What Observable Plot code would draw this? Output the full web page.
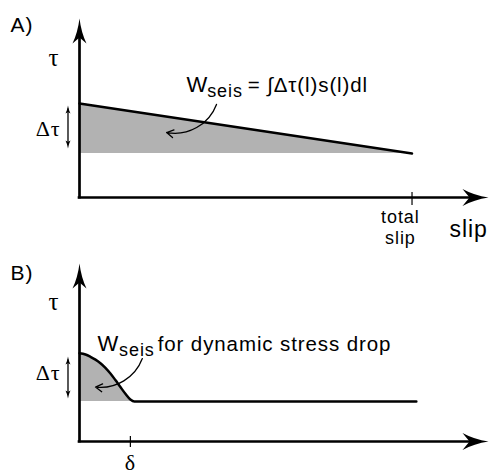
<!DOCTYPE html>
<html><head><meta charset="utf-8">
<script src="https://cdn.jsdelivr.net/npm/d3@7"></script>
<script src="https://cdn.jsdelivr.net/npm/@observablehq/plot@0.6"></script>
<style>
html,body{margin:0;padding:0;background:#fff}
#chart svg{display:block}
</style>
</head><body><div id="chart"></div>
<script>
// ---------- Panel A data: linear weakening over the total slip ----------
const slipA = [0, 1];
const stressA = [0.525, 0.246];
const finalStressA = 0.246;
const totalSlip = 1;

// ---------- Panel B data: dynamic stress drop within slip distance delta ----------
const slipB = [0, 0.018, 0.033, 0.048, 0.063, 0.078, 0.093, 0.108, 0.123, 0.138, 0.153, 0.165, 1.013];
const stressB = [0.496, 0.489, 0.476, 0.460, 0.440, 0.414, 0.382, 0.345, 0.306, 0.268, 0.236, 0.225, 0.225];
const finalStressB = 0.225;
const deltaSlip = 0.153;
const slipMax = 1.23;

// ---------- Text labels (data coordinates) ----------
const panelLabels = ["A)", "B)"];
const tauLabel = "τ";
const dtauLabel = "Δτ";
const wLabel = "W";
const wSub = "seis";
const eqLabel = "= ∫Δτ(l)s(l)dl";
const dynLabel = "for dynamic stress drop";
const totalLabel = ["total", "slip"];
const slipLabel = "slip";
const deltaLabel = "δ";

const dataA = slipA.map((s, i) => ({slip: s, stress: stressA[i]}));
const dataB = slipB.map((s, i) => ({slip: s, stress: stressB[i]}));

const SANS = "Liberation Sans, Arial, Helvetica, sans-serif";
const SERIF = "Liberation Serif, Times New Roman, serif";

// stealth arrowhead symbol, tip at origin pointing up
function stealth(len, wid, notch) {
  return {
    draw(ctx) {
      ctx.moveTo(0, 0);
      ctx.quadraticCurveTo(wid * 0.12, len * 0.55, wid / 2, len);
      ctx.lineTo(0, len - notch);
      ctx.lineTo(-wid / 2, len);
      ctx.quadraticCurveTo(-wid * 0.12, len * 0.55, 0, 0);
      ctx.closePath();
    }
  };
}
const headX = stealth(26, 17, 7);
const headY = stealth(25, 14, 6);
const headSmall = stealth(8, 5, 1.5);

function txt(x, y, text, opts) {
  return Plot.text([{x, y, text}], {x: "x", y: "y", text: "text", lineAnchor: "bottom", fill: "black", ...opts});
}

function axes(yTop) {
  return [
    Plot.ruleY([0], {x1: -0.004, x2: slipMax - 0.05, stroke: "black", strokeWidth: 2.7}),
    Plot.ruleX([0], {y1: -0.008, y2: yTop - 0.09, stroke: "black", strokeWidth: 2.7}),
    Plot.dot([{x: slipMax, y: 0}], {x: "x", y: "y", symbol: headX, rotate: 90, fill: "black", stroke: "none", r: 5}),
    Plot.dot([{x: 0, y: yTop}], {x: "x", y: "y", symbol: headY, fill: "black", stroke: "none", r: 5})
  ];
}

function dtauArrow(x, yTop, yBot) {
  return [
    Plot.ruleX([x], {y1: yBot + 0.02, y2: yTop - 0.02, stroke: "black", strokeWidth: 1.3}),
    Plot.dot([{x, y: yTop}], {x: "x", y: "y", symbol: headSmall, fill: "black", stroke: "none", r: 3}),
    Plot.dot([{x, y: yBot}], {x: "x", y: "y", symbol: headSmall, rotate: 180, fill: "black", stroke: "none", r: 3})
  ];
}

const common = {
  width: 491,
  marginLeft: 79,
  marginRight: 3,
  x: {domain: [0, slipMax], axis: null},
  y: {domain: [0, 1], axis: null},
  style: {fontFamily: SANS, letterSpacing: "0.9px", background: "white", overflow: "visible"}
};

const plotA = Plot.plot({
  ...common,
  height: 250,
  marginTop: 18,
  marginBottom: 53,
  marks: [
    Plot.areaY(dataA, {x: "slip", y1: finalStressA, y2: "stress", fill: "#b2b2b2"}),
    Plot.line(dataA, {x: "slip", y: "stress", stroke: "black", strokeWidth: 2.5}),
    ...axes(1),
    Plot.ruleX([totalSlip], {y1: -0.045, y2: 0.028, stroke: "black", strokeWidth: 1.2}),
    ...dtauArrow(-0.0346, 0.514, 0.274),
    Plot.arrow([{x1: 0.412, y1: 0.520, x2: 0.262, y2: 0.363}], {x1: "x1", y1: "y1", x2: "x2", y2: "y2", bend: 40, stroke: "black", strokeWidth: 1.3, headLength: 9}),
    txt(-0.2075, 0.922, panelLabels[0], {textAnchor: "start", fontSize: 21}),
    txt(-0.0767, 0.737, tauLabel, {textAnchor: "middle", fontSize: 25, fontFamily: SERIF}),
    txt(-0.057, 0.341, dtauLabel, {textAnchor: "end", fontSize: 22, fontFamily: SERIF}),
    txt(0.322, 0.589, wLabel, {textAnchor: "start", fontSize: 22}),
    txt(0.384, 0.559, wSub, {textAnchor: "start", fontSize: 18}),
    txt(0.506, 0.587, eqLabel, {textAnchor: "start", fontSize: 20.5}),
    txt(totalSlip - 0.035, -0.257, totalLabel.join("\n"), {textAnchor: "middle", fontSize: 18, lineHeight: 1.13}),
    txt(1.113, -0.223, slipLabel, {textAnchor: "start", fontSize: 23})
  ]
});

const plotB = Plot.plot({
  ...common,
  height: 224,
  marginTop: 13,
  marginBottom: 33,
  marks: [
    Plot.areaY(dataB, {x: "slip", y1: finalStressB, y2: "stress", fill: "#b2b2b2", curve: "monotone-x"}),
    Plot.line(dataB, {x: "slip", y: "stress", stroke: "black", strokeWidth: 2.5, curve: "monotone-x"}),
    ...axes(1),
    Plot.ruleX([deltaSlip], {y1: -0.034, y2: 0.028, stroke: "black", strokeWidth: 1.2}),
    ...dtauArrow(-0.0346, 0.478, 0.242),
    Plot.arrow([{x1: 0.189, y1: 0.466, x2: 0.048, y2: 0.306}], {x1: "x1", y1: "y1", x2: "x2", y2: "y2", bend: 38, stroke: "black", strokeWidth: 1.3, headLength: 9}),
    txt(-0.2075, 0.910, panelLabels[1], {textAnchor: "start", fontSize: 21}),
    txt(-0.0767, 0.736, tauLabel, {textAnchor: "middle", fontSize: 25, fontFamily: SERIF}),
    txt(-0.057, 0.343, dtauLabel, {textAnchor: "end", fontSize: 22, fontFamily: SERIF}),
    txt(0.054, 0.506, wLabel, {textAnchor: "start", fontSize: 22}),
    txt(0.119, 0.478, wSub, {textAnchor: "start", fontSize: 18}),
    txt(0.235, 0.511, dynLabel, {textAnchor: "start", fontSize: 20.5}),
    txt(deltaSlip, -0.16, deltaLabel, {textAnchor: "middle", fontSize: 22, fontFamily: SERIF})
  ]
});

const chart = document.getElementById("chart");
chart.appendChild(plotA);
chart.appendChild(plotB);
</script>
</body></html>
